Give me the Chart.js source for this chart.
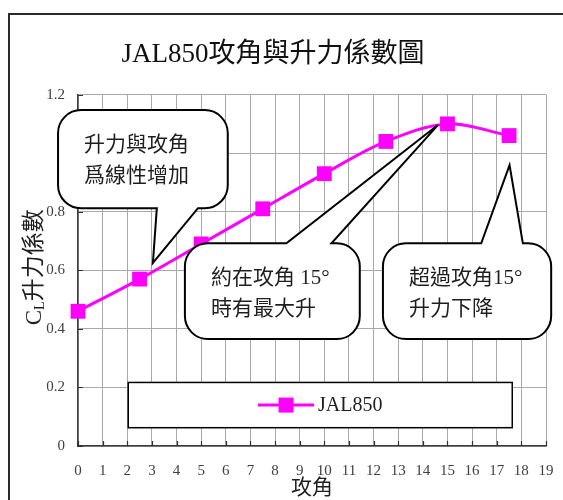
<!DOCTYPE html>
<html>
<head>
<meta charset="utf-8">
<script src="https://cdn.jsdelivr.net/npm/chart.js@4/dist/chart.umd.min.js"></script>
<style>
  html, body { margin: 0; padding: 0; background: #ffffff; }
  canvas { display: block; }
</style>
</head>
<body>
<canvas id="chart" width="563" height="500"></canvas>
<script>
// Angle of attack (degrees) and lift coefficient CL for the JAL850 airfoil
const angles = [0, 2.5, 5, 7.5, 10, 12.5, 15, 17.5];
const liftCoefficients = [0.46, 0.57, 0.69, 0.81, 0.93, 1.04, 1.10, 1.06];
const seriesName = 'JAL850';

const xTickLabels = ['0','1','2','3','4','5','6','7','8','9','10','11','12','13','14','15','16','17','18','19'];
const yTickLabels = ['0','0.2','0.4','0.6','0.8','','1.2'];

// Speech-bubble notes, anchored in data units (x = angle, y = CL)
const notes = [
  { lines: ['升力與攻角', '爲線性增加'],
    box: [-0.81, 1.147, 6.08, 0.812],
    tail: { edge: 'bottom', base: [3.20, 4.87], tip: [3.04, 0.625] } },
  { lines: ['約在攻角 15°', '時有最大升'],
    box: [4.34, 0.692, 11.44, 0.365],
    tail: { edge: 'top', base: [8.46, 10.29], tip: [14.61, 1.096] } },
  { lines: ['超過攻角15°', '升力下降'],
    box: [12.38, 0.692, 19.21, 0.365],
    tail: { edge: 'top', base: [16.37, 18.06], tip: [17.52, 0.959] } }
];
const legendBox = [2.04, 0.217, 17.63, 0.0625];

const SERIF = '"Liberation Serif", "Noto Sans CJK TC", serif';
const MAGENTA = '#FF00FF';

function bubblePath(ctx, l, t, r, b, rad, tail) {
  ctx.beginPath();
  ctx.moveTo(l + rad, t);
  if (tail.edge === 'top') {
    ctx.lineTo(tail.b1, t);
    ctx.lineTo(tail.tx, tail.ty);
    ctx.lineTo(tail.b2, t);
  }
  ctx.lineTo(r - rad, t);
  ctx.arcTo(r, t, r, t + rad, rad);
  ctx.lineTo(r, b - rad);
  ctx.arcTo(r, b, r - rad, b, rad);
  if (tail.edge === 'bottom') {
    ctx.lineTo(tail.b2, b);
    ctx.lineTo(tail.tx, tail.ty);
    ctx.lineTo(tail.b1, b);
  }
  ctx.lineTo(l + rad, b);
  ctx.arcTo(l, b, l, b - rad, rad);
  ctx.lineTo(l, t + rad);
  ctx.arcTo(l, t, l + rad, t, rad);
  ctx.closePath();
}

const framePlugin = {
  id: 'frame',
  beforeDraw(chart) {
    const ctx = chart.ctx;
    ctx.save();
    ctx.fillStyle = '#ffffff';
    ctx.fillRect(0, 0, chart.width, chart.height);
    ctx.strokeStyle = '#2a2a2a';
    ctx.lineWidth = 2;
    ctx.strokeRect(9, 14, chart.width + 20, chart.height + 20);
    ctx.restore();
  }
};

const overlayPlugin = {
  id: 'overlay',
  afterDatasetsDraw(chart) {
    const ctx = chart.ctx;
    const xs = chart.scales.x, ys = chart.scales.y;
    const area = chart.chartArea;
    ctx.save();

    // short inner tick marks
    ctx.strokeStyle = '#303030';
    ctx.lineWidth = 1.2;
    ctx.beginPath();
    xs.ticks.forEach(tk => {
      const px = Math.round(xs.getPixelForValue(tk.value)) + 0.5;
      ctx.moveTo(px, area.bottom);
      ctx.lineTo(px, area.bottom - 5);
    });
    ys.ticks.forEach(tk => {
      const py = Math.round(ys.getPixelForValue(tk.value)) + 0.5;
      ctx.moveTo(area.left, py);
      ctx.lineTo(area.left + 5, py);
    });
    ctx.stroke();

    // speech bubbles
    notes.forEach(n => {
      const l = xs.getPixelForValue(n.box[0]);
      const t = ys.getPixelForValue(n.box[1]);
      const r = xs.getPixelForValue(n.box[2]);
      const b = ys.getPixelForValue(n.box[3]);
      const tail = {
        edge: n.tail.edge,
        b1: xs.getPixelForValue(n.tail.base[0]),
        b2: xs.getPixelForValue(n.tail.base[1]),
        tx: xs.getPixelForValue(n.tail.tip[0]),
        ty: ys.getPixelForValue(n.tail.tip[1])
      };
      bubblePath(ctx, l, t, r, b, 23, tail);
      ctx.fillStyle = '#ffffff';
      ctx.fill();
      ctx.strokeStyle = '#000000';
      ctx.lineWidth = 2;
      ctx.lineJoin = 'miter';
      ctx.stroke();
      ctx.fillStyle = '#1e1e1e';
      ctx.font = '21px ' + SERIF;
      ctx.textAlign = 'left';
      ctx.textBaseline = 'middle';
      n.lines.forEach((line, i) => {
        ctx.fillText(line, l + 26, t + 35 + i * 31);
      });
    });

    // legend panel
    const ds = chart.data.datasets[0];
    const ll = xs.getPixelForValue(legendBox[0]);
    const lt = ys.getPixelForValue(legendBox[1]);
    const lr = xs.getPixelForValue(legendBox[2]);
    const lb = ys.getPixelForValue(legendBox[3]);
    ctx.fillStyle = '#ffffff';
    ctx.fillRect(ll, lt, lr - ll, lb - lt);
    ctx.strokeStyle = '#000000';
    ctx.lineWidth = 1.5;
    ctx.strokeRect(ll, lt, lr - ll, lb - lt);
    ctx.font = '20px ' + SERIF;
    const tw = ctx.measureText(ds.label).width;
    const sw = 56, gap = 4;
    const startX = (ll + lr) / 2 - (sw + gap + tw) / 2;
    const cy = (lt + lb) / 2;
    ctx.strokeStyle = ds.borderColor;
    ctx.lineWidth = ds.borderWidth;
    ctx.beginPath();
    ctx.moveTo(startX, cy);
    ctx.lineTo(startX + sw, cy);
    ctx.stroke();
    ctx.fillStyle = ds.backgroundColor;
    ctx.fillRect(startX + sw / 2 - 7.5, cy - 7.5, 15, 15);
    ctx.fillStyle = '#1e1e1e';
    ctx.textAlign = 'left';
    ctx.textBaseline = 'middle';
    ctx.fillText(ds.label, startX + sw + gap, cy + 1);

    ctx.restore();
  },
  afterDraw(chart) {
    // vertical axis title: C with subscript L, then 升力係數
    const ctx = chart.ctx;
    const area = chart.chartArea;
    ctx.save();
    ctx.fillStyle = '#1e1e1e';
    ctx.textBaseline = 'alphabetic';
    ctx.textAlign = 'left';
    const fMain = '23px ' + SERIF;
    const fSub = '14px ' + SERIF;
    ctx.font = fMain;
    const wC = ctx.measureText('C').width;
    const wRest = ctx.measureText('升力係數').width;
    ctx.font = fSub;
    const wL = ctx.measureText('L').width;
    const total = wC + wL + wRest;
    ctx.translate(41, (area.top + area.bottom) / 2 - 3);
    ctx.rotate(-Math.PI / 2);
    let x = -total / 2;
    ctx.font = fMain;
    ctx.fillText('C', x, 0);
    x += wC;
    ctx.font = fSub;
    ctx.fillText('L', x, 3);
    x += wL;
    ctx.font = fMain;
    ctx.fillText('升力係數', x, 0);
    ctx.restore();
  }
};

new Chart(document.getElementById('chart'), {
  type: 'line',
  data: {
    datasets: [{
      label: seriesName,
      data: angles.map((a, i) => ({ x: a, y: liftCoefficients[i] })),
      borderColor: MAGENTA,
      backgroundColor: MAGENTA,
      borderWidth: 3,
      tension: 0.33,
      pointStyle: 'rect',
      pointRadius: 10.5,
      pointBorderWidth: 0,
      pointBackgroundColor: MAGENTA,
      clip: false
    }]
  },
  options: {
    responsive: false,
    animation: false,
    events: [],
    layout: { padding: { left: 0, right: 17, top: 0, bottom: 0 } },
    scales: {
      x: {
        type: 'linear',
        min: 0,
        max: 19,
        afterFit(scale) { scale.height = 54; },
        ticks: {
          stepSize: 1,
          autoSkip: false,
          maxRotation: 0,
          padding: 2,
          color: '#404040',
          font: { family: SERIF, size: 15 },
          callback: (v, i) => xTickLabels[i]
        },
        grid: {
          color: '#a9a9a9',
          lineWidth: 1,
          drawTicks: true,
          tickLength: 14,
          tickColor: 'rgba(0,0,0,0)'
        },
        border: { display: true, color: '#3c3c3c', width: 1.5 },
        title: {
          display: true,
          text: '攻角',
          color: '#1e1e1e',
          font: { family: SERIF, size: 21, lineHeight: 1 },
          padding: { top: 0, bottom: 1.5 }
        }
      },
      y: {
        min: 0,
        max: 1.2,
        afterFit(scale) { scale.width = 78; },
        ticks: {
          stepSize: 0.2,
          padding: 13,
          color: '#404040',
          font: { family: SERIF, size: 15 },
          callback: (v, i) => yTickLabels[i]
        },
        grid: { color: '#a9a9a9', lineWidth: 1, drawTicks: false },
        border: { display: true, color: '#3c3c3c', width: 1.5 }
      }
    },
    plugins: {
      legend: { display: false },
      tooltip: { enabled: false },
      title: {
        display: true,
        text: 'JAL850攻角與升力係數圖',
        color: '#111111',
        font: { family: SERIF, size: 27, weight: 'normal', lineHeight: 1.2 },
        padding: { top: 38.8, bottom: 23.4 }
      }
    }
  },
  plugins: [framePlugin, overlayPlugin]
});
</script>
</body>
</html>
